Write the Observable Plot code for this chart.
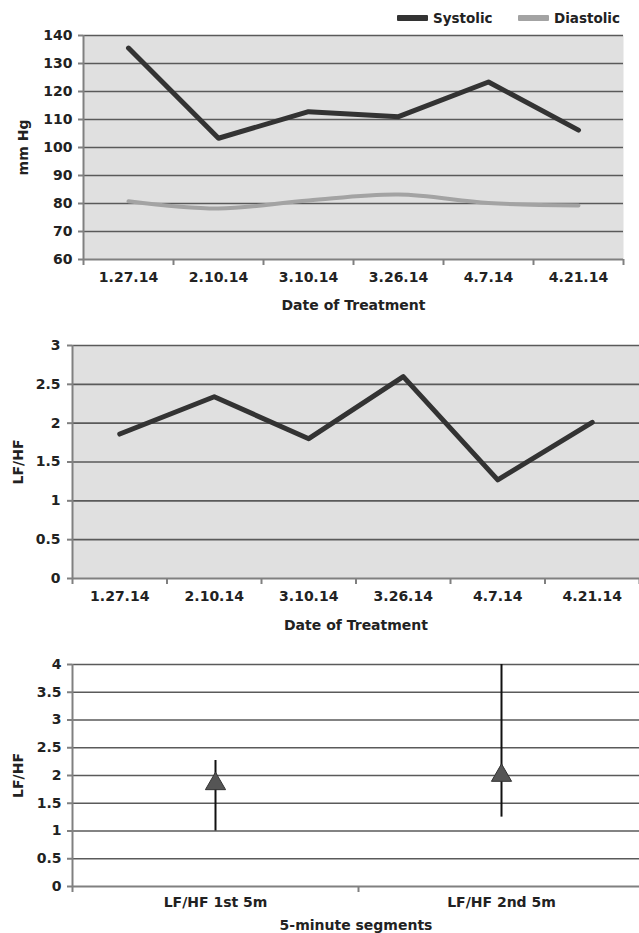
<!DOCTYPE html>
<html><head><meta charset="utf-8">
<script src="https://cdn.jsdelivr.net/npm/d3@7"></script>
<script src="https://cdn.jsdelivr.net/npm/@observablehq/plot@0.6"></script>
<style>
body{margin:0;background:#fff;font-family:"DejaVu Sans",sans-serif;}
#wrap{position:relative;width:639px;height:933px;overflow:hidden;background:#fff}
.panel{position:absolute;left:0}
.item{position:absolute;top:9px;height:18px;font:bold 13.5px "DejaVu Sans",sans-serif;color:#222;display:flex;align-items:center;white-space:nowrap}
.sw{display:inline-block;width:31px;height:6px;margin-right:5px;border-radius:1px}
</style></head><body>
<div id="wrap"></div>
<script>
// ---- data ----
const dates = ["1.27.14","2.10.14","3.10.14","3.26.14","4.7.14","4.21.14"];
const systolic = [135.5,103.3,112.8,111,123.4,106.2];
const diastolic = [80.8,78.2,81.1,83.2,80.2,79.3];
const bpTicks = [60,70,80,90,100,110,120,130,140];
const lfhf = [1.86,2.34,1.80,2.60,1.27,2.01];
const lfhfTicks = [0,0.5,1,1.5,2,2.5,3];
const segments = ["LF/HF 1st 5m","LF/HF 2nd 5m"];
const segMean = [1.85,2.0];
const segLow = [1.0,1.25];
const segHigh = [2.27,4.0];
const segTicks = [0,0.5,1,1.5,2,2.5,3,3.5,4];
const seriesNames = ["Systolic","Diastolic"];
const seriesColors = ["#333333","#a3a3a3"];

const TXT = "#222";
const AX = "#808080";
const GRID = "#5a5a5a";
const FS = 14;
const style = {fontFamily:"'DejaVu Sans', sans-serif", fontSize:FS+"px", fontWeight:"bold", background:"transparent", overflow:"visible"};
const wrap = document.getElementById("wrap");
function place(el, top){ const d=document.createElement("div"); d.className="panel"; d.style.top=top+"px"; d.appendChild(el); wrap.appendChild(d); }

function catAxes(cats, pad){
  const n = cats.length;
  return [
    Plot.axisX({ticks: d3.range(n+1), tickSize:6, tickFormat: ()=>"", stroke:AX, strokeWidth:2, label:null}),
    Plot.axisX({ticks: cats.map((_,i)=>i+0.5), tickSize:0, tickPadding:pad, tickFormat: v=>cats[Math.round(v-0.5)], fill:TXT, label:null})
  ];
}
function yAxis(ticks, pad){
  return Plot.axisY({ticks, tickSize:5, tickPadding:pad, stroke:AX, strokeWidth:2, fill:TXT, label:null, tickFormat: d=>String(d)});
}
function titles(yLab, yDx, xLab, xDy){
  return [
    Plot.text([yLab], {text:d=>d, frameAnchor:"left", dx:yDx, rotate:-90, textAnchor:"middle", lineAnchor:"middle", fill:TXT, fontSize:FS, fontWeight:"bold"}),
    Plot.text([xLab], {text:d=>d, frameAnchor:"bottom", dy:xDy, textAnchor:"middle", lineAnchor:"middle", fill:TXT, fontSize:FS, fontWeight:"bold"})
  ];
}

// ---- panel 1 ----
const rows1 = dates.map((d,i)=>({d, i, s:systolic[i], dia:diastolic[i]}));
const p1 = Plot.plot({
  width:639, height:320, marginTop:35, marginBottom:61, marginLeft:83, marginRight:16,
  style,
  x:{domain:[0,dates.length], axis:null},
  y:{domain:[60,140], axis:null},
  marks:[
    Plot.frame({fill:"#e0e0e0", stroke:null}),
    Plot.ruleY(bpTicks.slice(1), {stroke:GRID, strokeWidth:1.7}),
    Plot.ruleX([0], {stroke:AX, strokeWidth:2}),
    Plot.ruleY([60], {stroke:AX, strokeWidth:2}),
    yAxis(bpTicks, 6),
    ...catAxes(dates, 13),
    Plot.line(rows1, {x:d=>d.i+0.5, y:"dia", stroke:seriesColors[1], strokeWidth:4, curve:"catmull-rom"}),
    Plot.line(rows1, {x:d=>d.i+0.5, y:"s", stroke:seriesColors[0], strokeWidth:5, strokeLinejoin:"round"}),
    ...titles("mm Hg", -60, "Date of Treatment", 46)
  ]
});
place(p1, 0);

// legend
const legendLeft = [397, 518];
seriesNames.forEach((name,k)=>{
  const it=document.createElement("div"); it.className="item"; it.style.left=legendLeft[k]+"px";
  const sw=document.createElement("span"); sw.className="sw"; sw.style.background=seriesColors[k];
  it.appendChild(sw); it.appendChild(document.createTextNode(name)); wrap.appendChild(it);
});

// ---- panel 2 ----
const rows2 = dates.map((d,i)=>({d, i, v:lfhf[i]}));
const p2 = Plot.plot({
  width:639, height:320, marginTop:25, marginBottom:62, marginLeft:72, marginRight:0,
  style,
  x:{domain:[0,dates.length], axis:null},
  y:{domain:[0,3], axis:null},
  marks:[
    Plot.frame({fill:"#e0e0e0", stroke:null}),
    Plot.ruleY(lfhfTicks.slice(1), {stroke:GRID, strokeWidth:1.7}),
    Plot.ruleX([0], {stroke:AX, strokeWidth:2}),
    Plot.ruleY([0], {stroke:AX, strokeWidth:2}),
    yAxis(lfhfTicks, 7),
    ...catAxes(dates, 13),
    Plot.line(rows2, {x:d=>d.i+0.5, y:"v", stroke:"#333", strokeWidth:5, strokeLinejoin:"round"}),
    ...titles("LF/HF", -54, "Date of Treatment", 47)
  ]
});
place(p2, 320);

// ---- panel 3 ----
const rows3 = segments.map((s,i)=>({s, i, m:segMean[i], lo:segLow[i], hi:segHigh[i]}));
const p3 = Plot.plot({
  width:639, height:293, marginTop:24, marginBottom:47, marginLeft:72, marginRight:0,
  style,
  x:{domain:[0,segments.length], range:[72,644], axis:null},
  y:{domain:[0,4], axis:null},
  marks:[
    Plot.ruleY(segTicks.slice(1), {stroke:GRID, strokeWidth:1.7}),
    Plot.ruleX([0], {stroke:AX, strokeWidth:2}),
    Plot.ruleY([0], {stroke:AX, strokeWidth:2}),
    yAxis(segTicks, 6),
    ...catAxes(segments, 11),
    Plot.ruleX(rows3, {x:d=>d.i+0.5, y1:"lo", y2:"hi", stroke:"#111", strokeWidth:2}),
    Plot.dot(rows3, {x:d=>d.i+0.5, y:"m", symbol:"triangle", r:7.5, fill:"#555", stroke:"#333", strokeWidth:1}),
    ...titles("LF/HF", -54, "5-minute segments", 39)
  ]
});
place(p3, 640);
</script>
</body></html>
